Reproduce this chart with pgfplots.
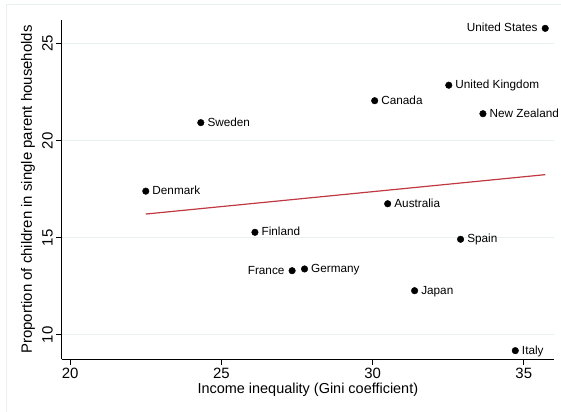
\documentclass[border=0pt]{standalone}
\usepackage{pgfplots}
\pgfplotsset{compat=1.18}
\usepackage{fontspec}
\setmainfont{Liberation Sans}
\definecolor{gridc}{RGB}{232,240,241}
\definecolor{framec}{RGB}{232,240,241}
\definecolor{fitc}{RGB}{192,56,66}
\begin{document}
\begin{tikzpicture}
\useasboundingbox (0,0) rectangle (561bp,412bp);
\draw[framec, line width=1bp] (6bp,0) -- (6bp,407bp) -- (561bp,407bp);
\begin{axis}[
  at={(61.7bp,53bp)}, anchor=south west,
  width=492.3bp, height=339bp, scale only axis,
  xmin=19.72, xmax=36, ymin=8.75, ymax=26.22,
  axis lines*=left,
  axis line style={black, line width=0.9bp},
  tick align=outside, major tick length=5.5bp,
  tick style={black, line width=0.9bp},
  xtick={20,25,30,35}, ytick={10,15,20,25},
  minor tick num=0,
  ymajorgrids, grid style={gridc, line width=0.9bp},
  /pgf/number format/assume math mode=true,
  ticklabel style={font=\fontsize{15}{15}\selectfont},
  yticklabel style={rotate=90, anchor=south},
  xlabel={Income inequality (Gini coefficient)},
  ylabel={Proportion of children in single parent households},
  xlabel style={font=\fontsize{14.5}{15}\selectfont, at={(axis description cs:0.5,-0.09)}, anchor=center},
  ylabel style={font=\fontsize{15}{15}\selectfont, at={(axis description cs:-0.0685,0.5)}, anchor=center},
  clip=false,
]
\addplot[fitc, line width=1.2bp] coordinates {(22.50,16.22) (35.71,18.25)};
\addplot[only marks, mark=*, mark size=3.3bp, black,
  nodes near coords, point meta=explicit symbolic,
  every node near coord/.style={anchor=west, inner sep=0pt, xshift=6.5bp,
    font=\fontsize{11.8}{12}\selectfont, text height=0.72em, text depth=0pt}]
  coordinates {
    (22.50,17.40) [Denmark]
    (24.32,20.93) [Sweden]
    (26.11,15.28) [Finland]
    (27.75,13.39) [Germany]
    (30.07,22.06) [Canada]
    (30.50,16.75) [Australia]
    (31.39,12.27) [Japan]
    (32.52,22.86) [United Kingdom]
    (32.91,14.92) [Spain]
    (33.65,21.39) [New Zealand]
    (34.72,9.18) [Italy]
  };
\addplot[only marks, mark=*, mark size=3.3bp, black,
  nodes near coords, point meta=explicit symbolic,
  every node near coord/.style={anchor=east, inner sep=0pt, xshift=-7.5bp,
    font=\fontsize{11.8}{12}\selectfont, text height=0.72em, text depth=0pt}]
  coordinates {
    (27.34,13.30) [France]
    (35.71,25.79) [United States]
  };
\end{axis}
\end{tikzpicture}
\end{document}
